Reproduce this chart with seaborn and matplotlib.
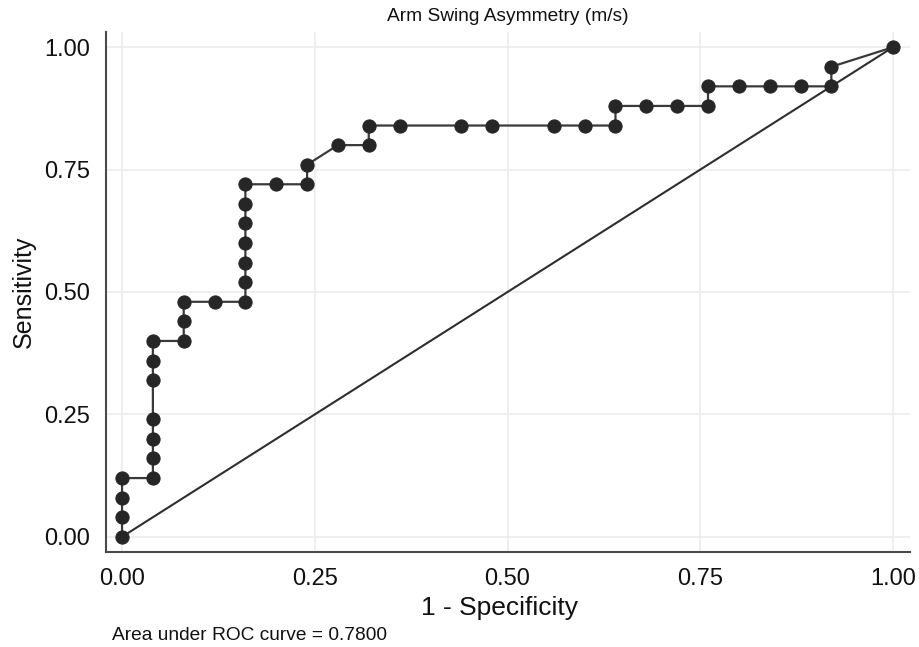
import matplotlib
matplotlib.use("Agg")
import matplotlib.pyplot as plt
import seaborn as sns
import pandas as pd

fpr = [0.00, 0.00, 0.00, 0.00, 0.04, 0.04, 0.04, 0.04, 0.04, 0.04, 0.04,
       0.08, 0.08, 0.08, 0.12, 0.16, 0.16, 0.16, 0.16, 0.16, 0.16, 0.16,
       0.20, 0.24, 0.24, 0.28, 0.32, 0.32, 0.36, 0.44, 0.48, 0.56, 0.60,
       0.64, 0.64, 0.68, 0.72, 0.76, 0.76, 0.80, 0.84, 0.88, 0.92, 0.92, 1.00]
tpr = [0.00, 0.04, 0.08, 0.12, 0.12, 0.16, 0.20, 0.24, 0.32, 0.36, 0.40,
       0.40, 0.44, 0.48, 0.48, 0.48, 0.52, 0.56, 0.60, 0.64, 0.68, 0.72,
       0.72, 0.72, 0.76, 0.80, 0.80, 0.84, 0.84, 0.84, 0.84, 0.84, 0.84,
       0.84, 0.88, 0.88, 0.88, 0.88, 0.92, 0.92, 0.92, 0.92, 0.92, 0.96, 1.00]
ref_x = [0.0, 1.0]
ref_y = [0.0, 1.0]
ticks = [0.00, 0.25, 0.50, 0.75, 1.00]
tick_labels = ["0.00", "0.25", "0.50", "0.75", "1.00"]
title = "Arm Swing Asymmetry (m/s)"
auc_text = "Area under ROC curve = 0.7800"

sns.set_style("white")
plt.rcParams['font.family'] = ['Liberation Sans', 'DejaVu Sans']

fig = plt.figure(figsize=(9.19, 6.47), dpi=100)
ax = fig.add_axes([106/919, 1 - 552/647, (910-106)/919, (552-32)/647])

roc = pd.DataFrame({"fpr": fpr, "tpr": tpr})
sns.lineplot(data=roc, x="fpr", y="tpr", sort=False, estimator=None, ax=ax,
             color="#3a3a3a", linewidth=1.6, marker="o", markersize=9.5,
             markerfacecolor="#262626", markeredgecolor="#262626", zorder=3)
sns.lineplot(x=ref_x, y=ref_y, ax=ax, color="#2e2e2e", linewidth=1.5, zorder=2)

ax.set_xlim(-0.0208, 1.022)
ax.set_ylim(-0.031, 1.031)
ax.set_xticks(ticks)
ax.set_xticklabels(tick_labels)
ax.set_yticks(ticks)
ax.set_yticklabels(tick_labels)
ax.grid(True, color="#ececec", linewidth=1.2)
ax.set_axisbelow(True)
for s in ["top", "right"]:
    ax.spines[s].set_visible(False)
for s in ["left", "bottom"]:
    ax.spines[s].set_color("#4a4a4a")
    ax.spines[s].set_linewidth(1.5)
ax.tick_params(axis="both", direction="out", length=6.5, width=1.2,
               color="#4a4a4a", labelsize=17, labelcolor="#111111", pad=5)
ax.tick_params(axis="y", pad=5)
ax.set_xlabel("1 - Specificity", fontsize=19, color="#111111", labelpad=4)
ax.xaxis.set_label_coords(0.489, -0.084)
ax.set_ylabel("Sensitivity", fontsize=18, color="#111111", labelpad=6)
ax.set_title(title, fontsize=13.8, color="#111111", pad=8)
fig.text(112/919, 1 - 635/647, auc_text, fontsize=13.8, color="#111111",
         ha="left", va="center")

fig.savefig("out.png", dpi=100)
